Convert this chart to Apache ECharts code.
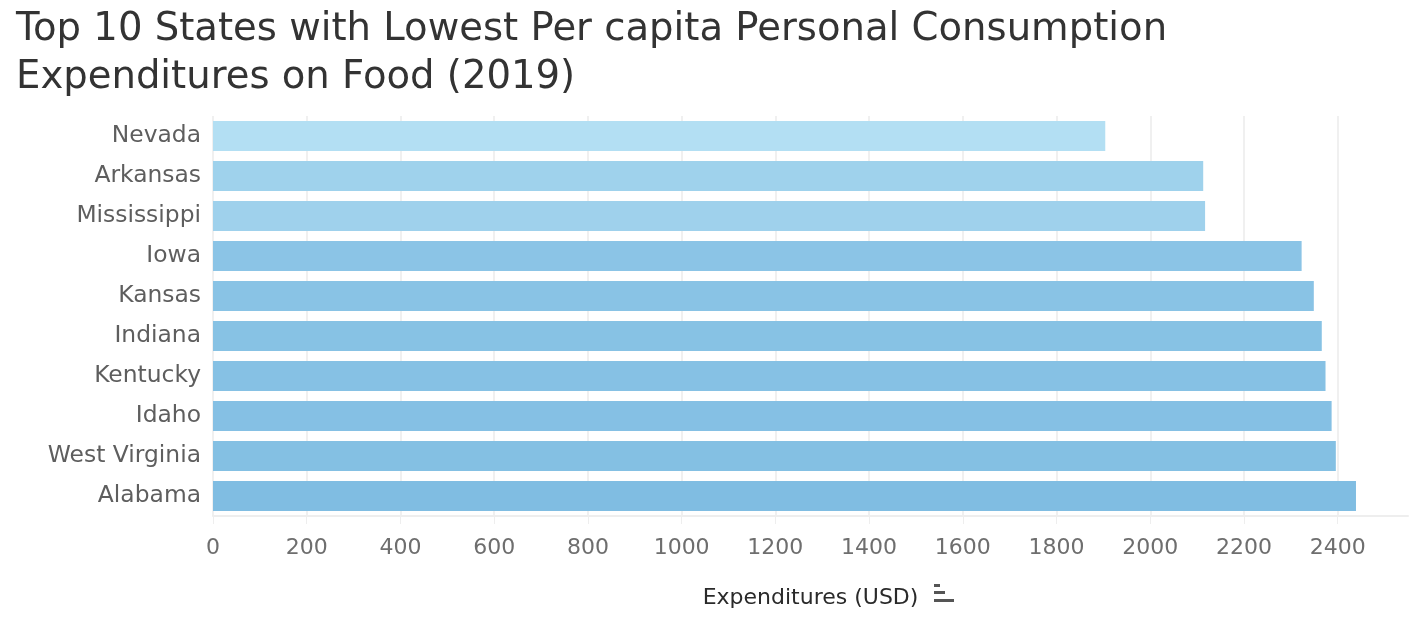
<!DOCTYPE html>
<html>
<head>
<meta charset="utf-8">
<script src="https://cdn.jsdelivr.net/npm/echarts@6/dist/echarts.min.js"></script>
<style>html,body{margin:0;padding:0;background:#fff}#c{width:1420px;height:622px}</style>
</head>
<body>
<div id="c"></div>
<script>
const states = ["Nevada","Arkansas","Mississippi","Iowa","Kansas","Indiana","Kentucky","Idaho","West Virginia","Alabama"];
const expenditures = [1904, 2113, 2117, 2323, 2349, 2366, 2374, 2387, 2396, 2439];
const titleLines = ["Top 10 States with Lowest Per capita Personal Consumption", "Expenditures on Food (2019)"];
const axisName = "Expenditures (USD)";

const font = "DejaVu Sans";
const chart = echarts.init(document.getElementById('c'));
chart.setOption({
  animation: false,
  backgroundColor: '#fff',
  title: {
    text: titleLines.join('\n'),
    left: 11, top: 1,
    textStyle: { fontFamily: font, fontSize: 38.6, fontWeight: 'normal', color: '#333', lineHeight: 48 }
  },
  visualMap: {
    show: false, type: 'continuous', dimension: 0, seriesIndex: 0,
    min: 1904, max: 2439,
    inRange: { color: ['#b3dff3', '#80bde2'] }
  },
  grid: { left: 213, right: 12, top: 116, bottom: 106 },
  xAxis: {
    type: 'value', min: 0, max: 2550, interval: 200,
    name: axisName, nameLocation: 'middle', nameGap: 71,
    nameTextStyle: { fontFamily: font, fontSize: 22, fontWeight: 'normal', color: '#2a2a2a' },
    axisLine: { show: true, lineStyle: { color: '#eeeeee', width: 2 } },
    axisTick: { show: true, length: 8, lineStyle: { color: '#eeeeee' } },
    axisLabel: { showMaxLabel: false, fontFamily: font, fontSize: 22, color: '#6e6e6e', margin: 21,
                 formatter: v => String(v) },
    splitLine: { show: true, showMaxLine: false, lineStyle: { color: '#f0f0f0', width: 2 } }
  },
  yAxis: {
    type: 'category', data: states, inverse: true,
    axisLine: { show: false }, axisTick: { show: false },
    axisLabel: { fontFamily: font, fontSize: 23.4, color: '#5e5e5e', margin: 12 }
  },
  series: [{
    type: 'bar', data: expenditures, barCategoryGap: '25%'
  }],
  graphic: [
    { type: 'rect', left: 934, top: 584, shape: { width: 6, height: 3 }, style: { fill: '#555' } },
    { type: 'rect', left: 934, top: 591, shape: { width: 11, height: 3 }, style: { fill: '#555' } },
    { type: 'rect', left: 934, top: 599, shape: { width: 20, height: 3 }, style: { fill: '#555' } }
  ]
});
</script>
</body>
</html>
